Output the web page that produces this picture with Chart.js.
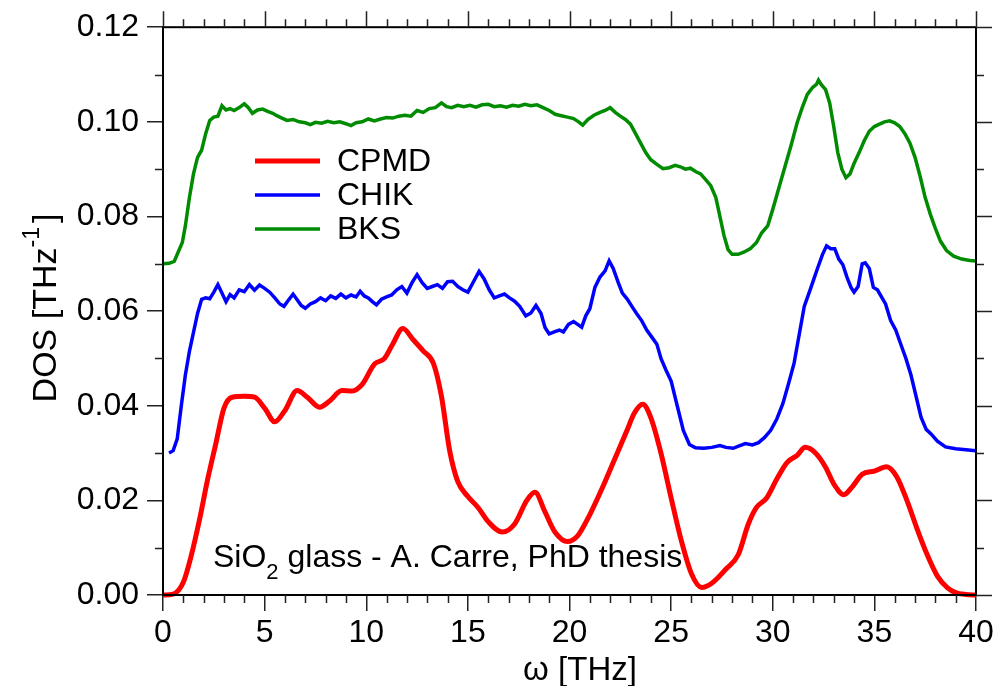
<!DOCTYPE html>
<html>
<head>
<meta charset="utf-8">
<script src="https://cdn.jsdelivr.net/npm/chart.js@4.4.1/dist/chart.umd.min.js"></script>
<style>
html,body{margin:0;padding:0;background:#fff;}
#wrap{width:1000px;height:686px;position:relative;}
</style>
</head>
<body>
<div id="wrap"><canvas id="c" width="1000" height="686"></canvas></div>
<script>
// ---- data ----
const seriesNames = ["CPMD", "CHIK", "BKS"];
const seriesColors = ["#ff0000", "#0000ff", "#008b00"];

const cpmdX = [0,0.5,1.0,1.4,1.8,2.2,2.6,3.0,3.4,4.0,4.5,5.0,5.5,6.0,6.6,7.1,7.7,8.2,8.8,9.3,9.8,10.4,10.9,11.3,11.8,12.3,12.8,13.3,13.7,14.1,14.5,15.0,15.5,16.0,16.7,17.3,17.9,18.3,18.8,19.3,19.9,20.4,21.0,21.6,22.2,22.8,23.2,23.6,24.0,24.5,25.0,25.5,26.0,26.5,27.0,27.7,28.3,28.8,29.2,29.7,30.2,30.7,31.2,31.6,32.1,32.6,33.0,33.5,33.9,34.4,35.0,35.6,36.1,36.6,37.1,37.6,38.1,38.6,39.0,39.5,40.0];
const cpmdY = [0.0000,0.0002,0.0027,0.0085,0.0160,0.0245,0.0320,0.0395,0.0418,0.0420,0.0418,0.0395,0.0366,0.0390,0.0432,0.0418,0.0397,0.0410,0.0432,0.0431,0.0445,0.0488,0.0500,0.0530,0.0563,0.0540,0.0516,0.0490,0.0420,0.0306,0.0240,0.0208,0.0185,0.0155,0.0133,0.0150,0.0200,0.0217,0.0175,0.0132,0.0113,0.0125,0.0170,0.0225,0.0285,0.0345,0.0385,0.0403,0.0375,0.0300,0.0205,0.0115,0.0045,0.0016,0.0025,0.0055,0.0085,0.0150,0.0185,0.0205,0.0245,0.0280,0.0295,0.0312,0.0300,0.0270,0.0235,0.0212,0.0228,0.0255,0.0262,0.0271,0.0250,0.0200,0.0140,0.0085,0.0040,0.0015,0.0005,0.0001,0.0000];

const chikX = [0.30,0.50,0.70,0.90,1.10,1.30,1.50,1.70,1.90,2.10,2.30,2.50,2.70,2.90,3.10,3.30,3.50,3.75,4.00,4.25,4.50,4.75,5.00,5.25,5.50,5.75,5.95,6.15,6.40,6.60,6.80,7.00,7.25,7.50,7.75,8.00,8.25,8.50,8.75,9.00,9.25,9.50,9.70,9.90,10.10,10.30,10.50,10.75,11.00,11.25,11.50,11.75,12.00,12.25,12.50,12.75,13.00,13.25,13.50,13.75,14.00,14.25,14.50,14.75,15.00,15.25,15.55,15.80,16.05,16.30,16.55,16.80,17.05,17.30,17.55,17.85,18.10,18.35,18.60,18.80,19.00,19.25,19.50,19.70,19.95,20.20,20.40,20.60,20.80,21.00,21.25,21.50,21.75,21.95,22.15,22.40,22.60,22.85,23.10,23.30,23.55,23.80,24.05,24.30,24.50,24.75,25.00,25.30,25.60,25.90,26.20,26.60,27.00,27.40,27.70,28.05,28.35,28.65,29.00,29.30,29.60,29.90,30.20,30.50,30.80,31.05,31.30,31.55,31.80,32.00,32.20,32.45,32.65,32.85,33.05,33.25,33.45,33.65,33.85,34.00,34.20,34.40,34.55,34.75,34.95,35.15,35.35,35.55,35.80,36.05,36.30,36.55,36.80,37.05,37.30,37.55,37.80,38.10,38.50,39.00,39.50,40.00];
const chikY = [0.0300,0.0305,0.0330,0.0400,0.0465,0.0515,0.0555,0.0595,0.0625,0.0628,0.0626,0.0640,0.0656,0.0638,0.0620,0.0635,0.0628,0.0645,0.0641,0.0656,0.0644,0.0655,0.0648,0.0640,0.0628,0.0615,0.0610,0.0622,0.0636,0.0624,0.0612,0.0606,0.0615,0.0620,0.0628,0.0622,0.0632,0.0627,0.0636,0.0628,0.0634,0.0630,0.0642,0.0632,0.0628,0.0620,0.0613,0.0625,0.0630,0.0634,0.0645,0.0652,0.0638,0.0660,0.0677,0.0660,0.0648,0.0652,0.0656,0.0648,0.0662,0.0663,0.0652,0.0645,0.0640,0.0660,0.0684,0.0668,0.0645,0.0628,0.0632,0.0636,0.0628,0.0621,0.0610,0.0590,0.0596,0.0612,0.0595,0.0565,0.0552,0.0556,0.0560,0.0556,0.0572,0.0578,0.0572,0.0566,0.0590,0.0605,0.0650,0.0672,0.0685,0.0706,0.0690,0.0660,0.0638,0.0625,0.0608,0.0595,0.0580,0.0560,0.0545,0.0530,0.0500,0.0475,0.0452,0.0400,0.0348,0.0318,0.0311,0.0310,0.0312,0.0316,0.0312,0.0310,0.0315,0.0320,0.0317,0.0322,0.0333,0.0348,0.0372,0.0405,0.0450,0.0490,0.0550,0.0610,0.0640,0.0665,0.0690,0.0720,0.0738,0.0732,0.0732,0.0710,0.0698,0.0672,0.0650,0.0640,0.0652,0.0700,0.0702,0.0690,0.0650,0.0645,0.0630,0.0615,0.0580,0.0560,0.0530,0.0500,0.0465,0.0420,0.0375,0.0350,0.0340,0.0325,0.0313,0.0309,0.0307,0.0305];

const bksX = [0.00,0.30,0.55,0.75,0.95,1.10,1.30,1.50,1.70,1.90,2.10,2.30,2.50,2.70,2.90,3.10,3.30,3.50,3.75,4.00,4.20,4.40,4.65,4.90,5.15,5.40,5.60,5.85,6.10,6.40,6.70,7.00,7.25,7.50,7.80,8.10,8.40,8.70,9.00,9.25,9.50,9.80,10.10,10.40,10.70,11.00,11.30,11.60,11.90,12.20,12.50,12.80,13.10,13.40,13.70,13.95,14.20,14.50,14.80,15.10,15.40,15.70,16.00,16.30,16.60,16.90,17.20,17.50,17.80,18.10,18.40,18.70,19.00,19.30,19.60,19.90,20.20,20.45,20.65,20.90,21.20,21.50,21.75,22.00,22.25,22.50,22.75,23.00,23.25,23.50,23.75,24.00,24.30,24.60,24.90,25.20,25.45,25.70,25.95,26.20,26.45,26.70,26.95,27.20,27.40,27.60,27.80,28.00,28.30,28.60,28.90,29.20,29.45,29.75,30.00,30.30,30.60,30.90,31.20,31.45,31.70,31.95,32.15,32.25,32.40,32.60,32.80,33.00,33.20,33.40,33.60,33.80,34.00,34.25,34.50,34.75,35.00,35.25,35.50,35.75,36.00,36.25,36.50,36.75,37.00,37.25,37.50,37.75,38.00,38.25,38.55,38.90,39.30,39.70,40.00];
const bksY = [0.0700,0.0701,0.0705,0.0725,0.0745,0.0780,0.0840,0.0890,0.0925,0.0940,0.0975,0.1003,0.1010,0.1012,0.1034,0.1025,0.1028,0.1024,0.1030,0.1038,0.1030,0.1018,0.1025,0.1027,0.1022,0.1018,0.1013,0.1008,0.1003,0.1005,0.1000,0.0998,0.0994,0.0999,0.0997,0.1001,0.0998,0.1000,0.0996,0.0992,0.0998,0.1000,0.1006,0.1002,0.1006,0.1009,0.1008,0.1012,0.1014,0.1012,0.1024,0.1020,0.1028,0.1030,0.1040,0.1032,0.1030,0.1035,0.1032,0.1035,0.1031,0.1036,0.1037,0.1032,0.1034,0.1031,0.1035,0.1033,0.1037,0.1034,0.1036,0.1030,0.1024,0.1016,0.1013,0.1010,0.1007,0.1000,0.0993,0.1005,0.1014,0.1020,0.1024,0.1030,0.1020,0.1012,0.1005,0.0995,0.0975,0.0955,0.0935,0.0920,0.0910,0.0901,0.0903,0.0908,0.0905,0.0900,0.0902,0.0895,0.0890,0.0878,0.0865,0.0840,0.0800,0.0760,0.0730,0.0720,0.0720,0.0725,0.0732,0.0745,0.0765,0.0780,0.0815,0.0860,0.0905,0.0950,0.0998,0.1030,0.1058,0.1072,0.1079,0.1088,0.1078,0.1068,0.1040,0.0990,0.0935,0.0900,0.0882,0.0890,0.0912,0.0935,0.0960,0.0980,0.0990,0.0995,0.1000,0.1002,0.0998,0.0990,0.0975,0.0955,0.0925,0.0885,0.0840,0.0805,0.0775,0.0748,0.0728,0.0716,0.0710,0.0707,0.0706];

const xTickValues = [0,5,10,15,20,25,30,35,40];
const yTickValues = [0.00,0.02,0.04,0.06,0.08,0.10,0.12];
const xTitle = "\u03c9 [THz]";
const yTitleMain = "DOS [THz";
const yTitleSup = "-1";
const noteMain = "SiO";
const noteSub = "2";
const noteRest = " glass - A. Carre, PhD thesis";

// ---- build ----
function pts(xs, ys){ return xs.map((x,i)=>({x:x, y:ys[i]})); }
const FONT = "'Liberation Sans', Arial, Helvetica, sans-serif";

const decor = {
  id: 'decor',
  afterDraw(chart){
    const ctx = chart.ctx;
    const xs = chart.scales.x, ys = chart.scales.y;
    const a = chart.chartArea;
    ctx.save();
    // frame
    ctx.strokeStyle = '#000';
    ctx.lineWidth = 2;
    ctx.strokeRect(a.left, a.top, a.right - a.left, a.bottom - a.top);
    // ticks
    ctx.lineWidth = 1.5;
    ctx.strokeStyle = '#222';
    ctx.beginPath();
    for (let v = 0; v <= 40; v += 1){
      const px = Math.round(xs.getPixelForValue(v)) + 0.5;
      const major = (v % 5 === 0);
      const L = major ? 16 : 8;
      if (!major){ ctx.moveTo(px, a.bottom); ctx.lineTo(px, a.bottom + L); }
      ctx.moveTo(px, a.top); ctx.lineTo(px, a.top - L);
    }
    for (let k = 0; k <= 12; k++){
      const v = k * 0.01;
      const py = Math.round(ys.getPixelForValue(v)) + 0.5;
      const major = (k % 2 === 0);
      const L = major ? 16 : 8;
      if (!major){ ctx.moveTo(a.left, py); ctx.lineTo(a.left - L, py); }
      ctx.moveTo(a.right, py); ctx.lineTo(a.right + L, py);
    }
    ctx.stroke();

    // legend
    ctx.textBaseline = 'middle';
    ctx.textAlign = 'left';
    ctx.font = "32px " + FONT;
    const legY = [161, 195, 229];
    chart.data.datasets.forEach((ds, i) => {
      ctx.strokeStyle = ds.borderColor;
      ctx.lineWidth = ds.borderWidth;
      ctx.beginPath();
      ctx.moveTo(255, legY[i]); ctx.lineTo(320, legY[i]);
      ctx.stroke();
      ctx.fillStyle = '#000';
      ctx.fillText(ds.label, 337, legY[i] + 1);
    });

    // annotation
    ctx.fillStyle = '#000';
    ctx.textBaseline = 'alphabetic';
    ctx.font = "32px " + FONT;
    let x0 = 213, base = 567;
    ctx.fillText(noteMain, x0, base);
    x0 += ctx.measureText(noteMain).width;
    ctx.font = "22px " + FONT;
    ctx.fillText(noteSub, x0, base + 12);
    x0 += ctx.measureText(noteSub).width;
    ctx.font = "32px " + FONT;
    ctx.fillText(noteRest, x0, base);

    // x title
    ctx.textAlign = 'center';
    ctx.font = "33px " + FONT;
    ctx.fillText(xTitle, 580, 680);

    // y title (rotated)
    ctx.save();
    ctx.translate(56, 308);
    ctx.rotate(-Math.PI / 2);
    ctx.font = "34px " + FONT;
    const w1 = ctx.measureText(yTitleMain).width;
    ctx.font = "23px " + FONT;
    const w2 = ctx.measureText(yTitleSup).width;
    ctx.font = "34px " + FONT;
    const w3 = ctx.measureText("]").width;
    const tot = w1 + w2 + w3 + 4;
    let sx = -tot / 2;
    ctx.textAlign = 'left';
    ctx.fillText(yTitleMain, sx, 0);
    sx += w1;
    ctx.font = "23px " + FONT;
    ctx.fillText(yTitleSup, sx, -17);
    sx += w2 + 4;
    ctx.font = "34px " + FONT;
    ctx.fillText("]", sx, 0);
    ctx.restore();

    ctx.restore();
  }
};

new Chart(document.getElementById('c'), {
  type: 'line',
  data: {
    datasets: [
      { label: seriesNames[0], data: pts(cpmdX, cpmdY), borderColor: seriesColors[0], borderWidth: 5, tension: 0.4, cubicInterpolationMode: 'monotone', pointRadius: 0, fill: false, clip: 6 },
      { label: seriesNames[1], data: pts(chikX, chikY), borderColor: seriesColors[1], borderWidth: 3.5, tension: 0, pointRadius: 0, fill: false, clip: 6 },
      { label: seriesNames[2], data: pts(bksX, bksY), borderColor: seriesColors[2], borderWidth: 3.5, tension: 0, pointRadius: 0, fill: false, clip: 6 }
    ]
  },
  options: {
    responsive: false,
    animation: false,
    devicePixelRatio: 1,
    layout: { padding: { left: 0, right: 24, top: 24, bottom: 0 } },
    plugins: { legend: { display: false }, tooltip: { enabled: false }, title: { display: false } },
    scales: {
      x: {
        type: 'linear', min: 0, max: 40,
        afterBuildTicks: (s) => { s.ticks = xTickValues.map(v => ({value: v})); },
        afterFit: (s) => { s.height = 91; },
        ticks: { color: '#000', font: { size: 32, family: FONT }, padding: 3, maxRotation: 0, callback: (v) => String(v) },
        grid: { display: true, drawOnChartArea: false, drawTicks: true, tickLength: 16, color: '#222', lineWidth: 1.5 },
        border: { display: true, color: '#000', width: 2 }
      },
      y: {
        type: 'linear', min: 0, max: 0.12,
        afterBuildTicks: (s) => { s.ticks = yTickValues.map(v => ({value: v})); },
        afterFit: (s) => { s.width = 163; },
        ticks: { color: '#000', font: { size: 32, family: FONT }, padding: 8, callback: (v) => Number(v).toFixed(2) },
        grid: { display: true, drawOnChartArea: false, drawTicks: true, tickLength: 16, color: '#222', lineWidth: 1.5 },
        border: { display: true, color: '#000', width: 2 }
      }
    }
  },
  plugins: [decor]
});
</script>
</body>
</html>
